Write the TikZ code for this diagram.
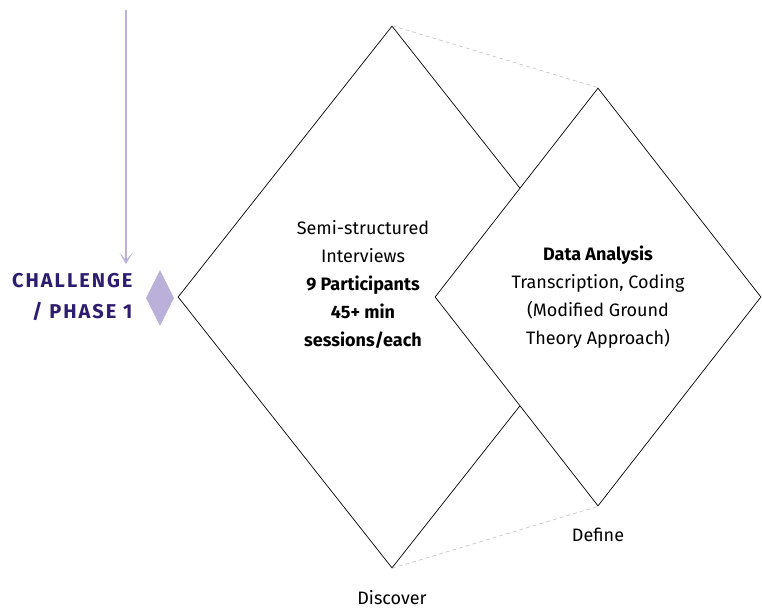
\documentclass[tikz,border=0pt]{standalone}
\usepackage{fontspec}
\setmainfont{Fira Sans}
\newfontfamily\spacedfont[LetterSpace=10]{Fira Sans}
\usetikzlibrary{shapes.geometric,arrows.meta}
\definecolor{lilac}{HTML}{BBB0D9}
\definecolor{plum}{HTML}{2E1C6E}
\definecolor{linkgray}{HTML}{C8C8C8}

\begin{document}
\begin{tikzpicture}[x=1pt,y=-1pt,
                    phase node/.style={diamond,draw=black,line width=0.7pt,fill=white,inner sep=0pt},
                    text node/.style={align=center,font=\fontsize{18}{28}\selectfont},
                    label node/.style={font=\fontsize{18}{22}\selectfont}]

  \useasboundingbox (0,0) rectangle (762,609);

  \node[phase node,minimum width=428pt,minimum height=542pt] (disc) at (392,297) {};
  \node[phase node,minimum width=326pt,minimum height=418pt] (def) at (598,297) {};
  \node[diamond,fill=lilac,inner sep=0pt,minimum width=28pt,minimum height=56pt] (mark) at (160,298) {};

  \node[text node] (interviews) at (363,284) {Semi-structured\\Interviews\\\textbf{9 Participants}\\\textbf{45+ min}\\\textbf{sessions/each}};
  \node[text node] (analysis) at (598,297) {\textbf{Data Analysis}\\Transcription, Coding\\(Modified Ground\\Theory Approach)};

  \node[label node] (discover) at (392,598) {Discover};
  \node[label node] (define) at (598,535) {Define};

  \node[anchor=east,align=right,text=plum,font=\spacedfont\bfseries\fontsize{20}{31}\selectfont] (challenge) at (136,297) {CHALLENGE\\/ PHASE 1};

  \coordinate (flow top) at (126,10);
  \coordinate (flow end) at (126,264);

  \path[linkgray,dash pattern=on 4pt off 3pt,line width=0.7pt]
    (disc.north) edge (def.north)
    (disc.south) edge (def.south);

  \draw[lilac,line width=1.2pt,-{Stealth[length=11pt,width=13pt,inset=7pt]}] (flow top) -- (flow end);
\end{tikzpicture}
\end{document}
